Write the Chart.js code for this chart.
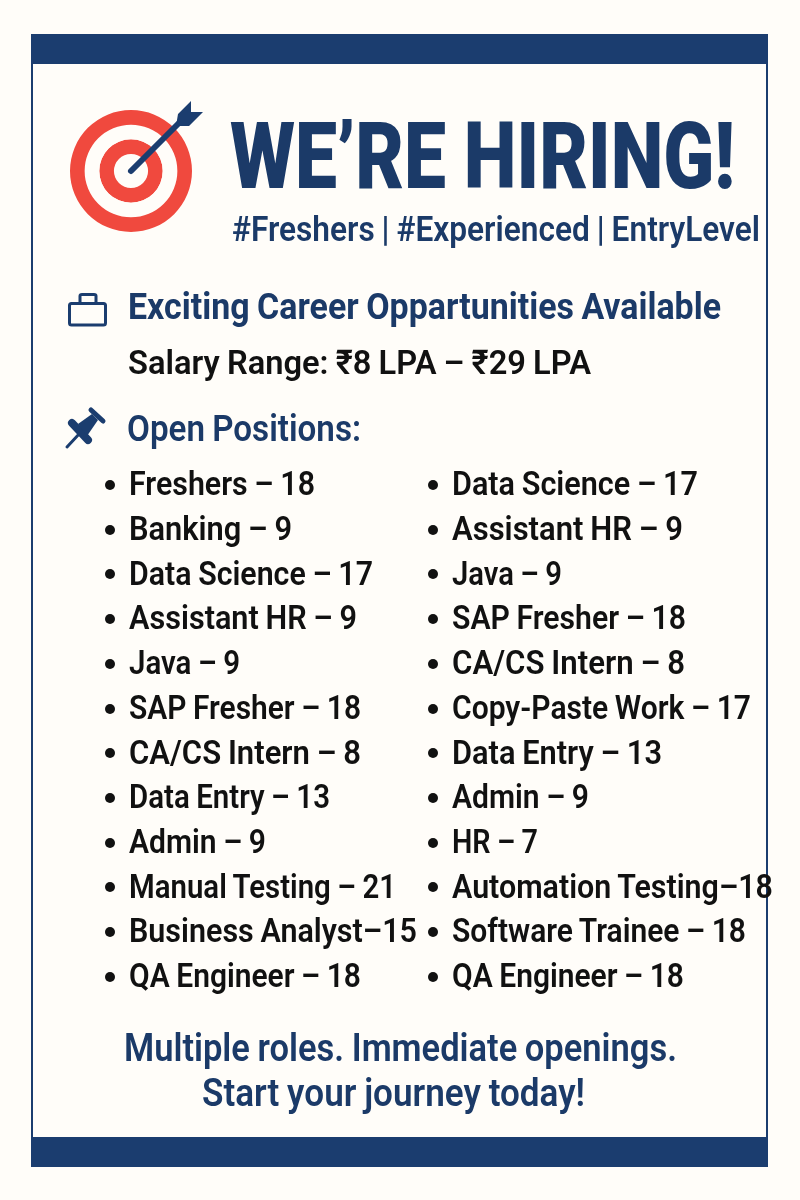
<!DOCTYPE html>
<html>
<head>
<meta charset="utf-8">
<title>We're Hiring</title>
<script src="https://cdn.jsdelivr.net/npm/chart.js@4"></script>
<style>
  html, body { margin: 0; padding: 0; background: #fffdf9; }
  #poster { position: relative; width: 800px; height: 1200px; overflow: hidden; background: #fffdf9; font-family: Roboto, sans-serif; }
  .frame { position: absolute; left: 31px; top: 34px; width: 733px; height: 1128px; border: 2px solid #1b3d6f; }
  .band { position: absolute; left: 31px; width: 737px; height: 30px; background: #1b3d6f; }
  .txt { position: absolute; white-space: nowrap; line-height: 1; transform-origin: left center; word-spacing: -1px; }
  .navy { color: #1b3a68; }
  .ink { color: #111; }
  .dot { position: absolute; width: 10px; height: 10px; border-radius: 50%; background: #111; }
  #targetWrap { position: absolute; left: 70px; top: 110px; width: 122px; height: 122px; }
  svg { position: absolute; left: 0; top: 0; }
</style>
</head>
<body>
<div id="poster">
  <div class="frame"></div>
  <div class="band" style="top:34px"></div>
  <div class="band" style="top:1137px"></div>
  <div id="targetWrap"><canvas id="target"></canvas></div>
  <svg width="800" height="1200">
    <!-- arrow -->
    <line x1="131" y1="171" x2="186" y2="116" stroke="#1b3d6f" stroke-width="6" stroke-linecap="round"/>
    <polygon points="178,114 191,101 191,112 203,112 189,126 176,126" fill="#1b3d6f"/>
    <!-- briefcase -->
    <rect x="69.5" y="303.5" width="36" height="21.5" rx="2" fill="none" stroke="#1b3d6f" stroke-width="3"/>
    <path d="M80 303 V296 Q80 294.5 82 294.5 H94 Q96 294.5 96 296 V303" fill="none" stroke="#1b3d6f" stroke-width="3"/>
    <!-- pin -->
    <line x1="67" y1="447" x2="80" y2="433" stroke="#1b3d6f" stroke-width="3" stroke-linecap="round"/>
    <line x1="72" y1="423" x2="88" y2="440" stroke="#1b3d6f" stroke-width="8" stroke-linecap="round"/>
    <polygon points="78,424 92,414 98,420 87,436" fill="#1b3d6f"/>
    <line x1="91" y1="410" x2="103" y2="421" stroke="#1b3d6f" stroke-width="5" stroke-linecap="round"/>
  </svg>
</div>

<script>
// Open positions, as printed on the poster
const leftRoles   = ['Freshers', 'Banking', 'Data Science', 'Assistant HR', 'Java', 'SAP Fresher',
                     'CA/CS Intern', 'Data Entry', 'Admin', 'Manual Testing', 'Business Analyst', 'QA Engineer'];
const leftCounts  = [18, 9, 17, 9, 9, 18, 8, 13, 9, 21, 15, 18];
const rightRoles  = ['Data Science', 'Assistant HR', 'Java', 'SAP Fresher', 'CA/CS Intern', 'Copy-Paste Work',
                     'Data Entry', 'Admin', 'HR', 'Automation Testing', 'Software Trainee', 'QA Engineer'];
const rightCounts = [17, 9, 9, 18, 8, 17, 13, 9, 7, 18, 18, 18];

// Rows printed without spaces round the dash
const tightRoles = ['Business Analyst', 'Automation Testing'];

// Target rings, outermost last in the list drawn by Chart.js
const ringValues = [1, 1, 1];
const ringColors = ['#f0493e', '#fffdf9', '#f0493e'];

// Where each row of the list has to end on the page
const leftEnds  = [315, 292, 373, 357, 240, 361, 361, 330, 266, 396, 417, 361];
const rightEnds = [698, 683, 562, 686, 685, 751, 662, 589, 538, 773, 746, 684];

const poster = document.getElementById('poster');

// Places a line by its baseline and squeezes it to end at the given x
function addText(str, x, endX, baseline, size, weight, cls) {
  const el = document.createElement('div');
  el.className = 'txt ' + cls;
  el.textContent = str;
  el.style.left = x + 'px';
  el.style.top = (baseline - size * 0.8415) + 'px';
  el.style.fontSize = size + 'px';
  el.style.fontWeight = weight;
  poster.appendChild(el);
  const w = el.getBoundingClientRect().width;
  el.style.transform = `scaleX(${(endX - x) / w})`;
}

function addColumn(roles, counts, ends, dotX, textX) {
  roles.forEach((role, i) => {
    const base = 495 + i * 44.7;
    const dot = document.createElement('div');
    dot.className = 'dot';
    dot.style.left = dotX + 'px';
    dot.style.top = (base - 15) + 'px';
    poster.appendChild(dot);
    const sep = tightRoles.includes(role) ? '–' : ' – ';
    addText(role + sep + counts[i], textX, ends[i], base, 34, 600, 'ink');
  });
}

addText('WE’RE HIRING!', 230, 735, 188, 93, 900, 'navy');
addText('#Freshers | #Experienced | EntryLevel', 232, 760, 241, 35, 600, 'navy');
addText('Exciting Career Oppartunities Available', 128, 721, 319, 36, 700, 'navy');
addText('Salary Range: ₹8 LPA – ₹29 LPA', 128, 591, 374, 34, 600, 'ink');
addText('Open Positions:', 127, 361, 441, 36, 600, 'navy');
addColumn(leftRoles, leftCounts, leftEnds, 105, 129);
addColumn(rightRoles, rightCounts, rightEnds, 428, 452);
addText('Multiple roles. Immediate openings.', 124, 677, 1061, 38, 600, 'navy');
addText('Start your journey today!', 202, 585, 1106, 38, 600, 'navy');

new Chart(document.getElementById('target'), {
  type: 'doughnut',
  data: {
    labels: ['ring'],
    datasets: ringValues.map((v, i) => ({
      data: [v],
      backgroundColor: ringColors[i],
      borderWidth: 0
    }))
  },
  options: {
    responsive: true,
    maintainAspectRatio: false,
    animation: false,
    cutout: '28%',
    plugins: { legend: { display: false }, tooltip: { enabled: false } }
  }
});
</script>
</body>
</html>
